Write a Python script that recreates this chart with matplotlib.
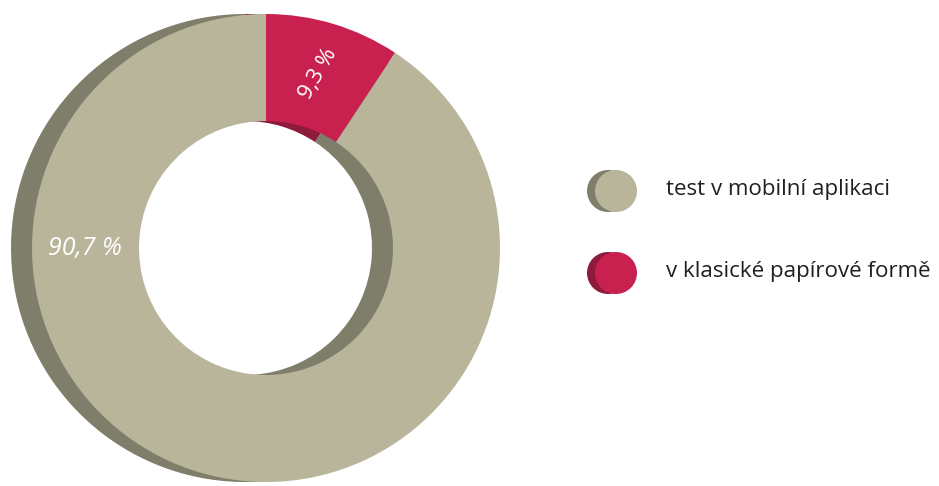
import matplotlib
matplotlib.use("Agg")
from matplotlib import pyplot as plt
from matplotlib.patches import Circle

# data
labels = ["test v mobilní aplikaci", "v klasické papírové formě"]
shares = [90.7, 9.3]
share_texts = ["90,7 %", "9,3 %"]

face_colors = ["#b8b59b", "#c8214f"]
shadow_colors = ["#7f7e6a", "#8e1a3c"]

W, H = 939, 486
fig = plt.figure(figsize=(W / 100, H / 100), dpi=100)
ax = fig.add_axes([0, 0, 1, 1])

# ring in pixel coords (y measured from bottom)
cx, cy = 266, H - 248
r_out, r_in = 234, 127
shift = 21

# shadow ring first, then front ring on top
for c, cols in [((cx - shift, cy), shadow_colors), ((cx, cy), face_colors)]:
    ax.pie(shares[::-1], colors=cols[::-1], startangle=90, counterclock=False,
           radius=r_out, center=c, frame=True,
           wedgeprops=dict(width=r_out - r_in, linewidth=0))

ax.text(85, H - 248, share_texts[0], color="white", fontsize=18, style="italic",
        family="Open Sans", ha="center", va="center")
ax.text(318, H - 74, share_texts[1], color="white", fontsize=16,
        family="Open Sans", ha="center", va="center", rotation=60)

# legend
leg_y = [H - 191, H - 273]
for y, lab, fc, sc in zip(leg_y, labels, face_colors, shadow_colors):
    ax.add_patch(Circle((608, y), 21, color=sc, lw=0))
    ax.add_patch(Circle((616, y), 21, color=fc, lw=0))
    ax.text(666, y + 1, lab, fontsize=16.1, family="Open Sans", color="#231f20",
            ha="left", va="center")

ax.set_xlim(0, W)
ax.set_ylim(0, H)
ax.set_aspect("equal")
ax.axis("off")

fig.savefig("out.png", dpi=100)
